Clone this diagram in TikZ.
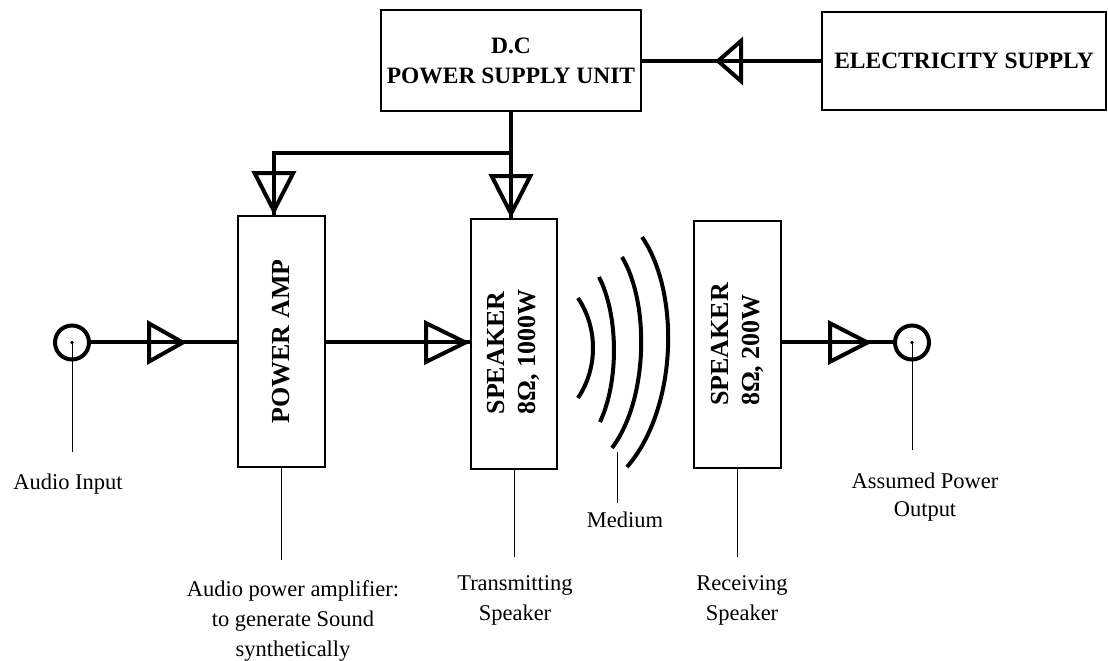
\documentclass[tikz,border=0pt]{standalone}
\usepackage{fontspec}
\setmainfont{Liberation Serif}
\usepackage{graphicx}
\usepackage{tikz}
\usetikzlibrary{arrows.meta}

\begin{document}
\begin{tikzpicture}[
    unit/.style={draw, line width=0.04cm, inner sep=0pt, align=center,
                 font=\bfseries\fontsize{16.7}{21.3}\selectfont},
    vunit/.style={draw, line width=0.04cm, inner sep=0pt,
                 font=\bfseries\fontsize{18.5}{22}\selectfont},
    jack/.style={circle, draw, line width=0.1cm, minimum size=0.85cm, inner sep=0pt},
    note/.style={align=center, anchor=north, inner xsep=0pt, inner ysep=#1,
                 font=\fontsize{16}{21.3}\selectfont},
    note/.default=0.5cm,
    wire/.style={line width=0.1cm},
    feed/.style={wire, postaction={draw, -{Triangle[open, length=#1, width=1.1cm]}}},
    feed/.default=1cm,
    lead/.style={line width=0.7pt}
]
    \useasboundingbox (0,0) rectangle (27.7,16.5);

    \node[unit, minimum width=6.5cm, minimum height=2.525cm] (dcpsu) at (12.775,14.9875) {D.C\\POWER SUPPLY UNIT};
    \node[unit, minimum width=7.1cm, minimum height=2.45cm] (mains) at (24.1,14.975) {ELECTRICITY SUPPLY};
    \node[vunit, minimum width=2.175cm, minimum height=6.275cm] (amp) at (7.0375,7.9625) {\rotatebox{90}{POWER AMP}};
    \node[vunit, minimum width=2.15cm, minimum height=6.25cm] (txspk) at (12.85,7.9)
        {\rotatebox{90}{\hspace*{-0.4cm}\begin{tabular}{@{}l@{}}SPEAKER\\8Ω, 1000W\end{tabular}}};
    \node[vunit, minimum width=2.175cm, minimum height=6.175cm] (rxspk) at (18.4375,7.8875)
        {\rotatebox{90}{\begin{tabular}{@{}l@{}}SPEAKER\\8Ω, 200W\end{tabular}}};

    \node[jack] (ain) at (1.8,7.9375) {};
    \node[jack] (aout) at (22.8,7.9375) {};
    \fill (ain.center) circle (0.045);
    \fill (aout.center) circle (0.045);

    \coordinate (intip) at (4.675,7.9375);
    \coordinate (outtip) at (21.8,7.9375);
    \coordinate (acdc) at (17.875,14.975);
    \coordinate (split) at (12.775,12.675);
    \coordinate (medtop) at (15.425,5.2);

    \node[note=0.55cm] (inlbl) at (1.7,5.2) {Audio Input};
    \node[note=0.5cm] (amplbl) at (7.325,2.5) {Audio power amplifier:\\to generate Sound\\synthetically};
    \node[note=0.45cm] (txlbl) at (12.875,2.575) {Transmitting\\Speaker};
    \node[note=0.225cm] (medlbl) at (15.625,3.925) {Medium};
    \node[note=0.45cm] (rxlbl) at (18.55,2.575) {Receiving\\Speaker};
    \node[note=0.575cm, font=\fontsize{16}{19.5}\selectfont] (outlbl) at (23.125,5.25) {Assumed Power\\Output};

    \draw[feed] (ain) -- (intip);
    \draw[wire] (intip) -- (amp.west |- intip);
    \draw[feed=1.15cm] (amp.east |- intip) -- (txspk.west |- intip);
    \draw[feed=1.1cm] (rxspk.east |- outtip) -- (outtip);
    \draw[wire] (outtip) -- (aout);
    \draw[wire, postaction={draw, -{Triangle[open, length=0.7cm, width=1.2cm]}}] (mains.west) -- (acdc);
    \draw[wire] (acdc) -- (dcpsu.east |- acdc);
    \draw[feed=1.1cm] (dcpsu.south) -- (txspk.north -| dcpsu.south);
    \draw[feed=1.1cm] (split) -| ([xshift=-0.19cm]amp.north);

    \draw[wire] (14.45,9.05) .. controls (14.95,8.3) and (14.95,7.3) .. (14.45,6.55);
    \draw[wire] (14.975,9.575) .. controls (15.47,8.6) and (15.47,6.95) .. (15.0,5.95);
    \draw[wire] (15.55,10.075) .. controls (16.25,8.9) and (16.2,6.5) .. (15.3,5.3);
    \draw[wire] (16.05,10.575) .. controls (17.0,9.2) and (16.95,6.3) .. (15.675,4.825);

    \draw[lead] (ain.center) -- (ain.center |- inlbl.north);
    \draw[lead] (amp.south) -- (amp.south |- amplbl.north);
    \draw[lead] (txspk.south) -- (txspk.south |- txlbl.north);
    \draw[lead] (medtop) -- (medtop |- medlbl.north);
    \draw[lead] (rxspk.south) -- (rxspk.south |- rxlbl.north);
    \draw[lead] (aout.center) -- (aout.center |- outlbl.north);
\end{tikzpicture}
\end{document}
